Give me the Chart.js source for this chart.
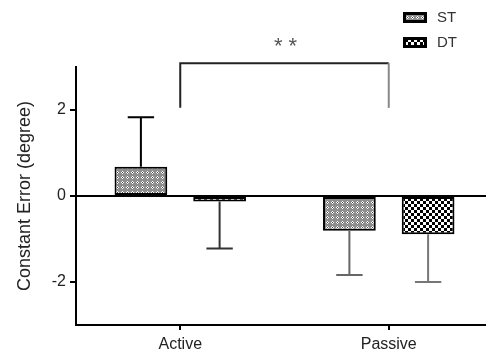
<!DOCTYPE html>
<html>
<head>
<meta charset="utf-8">
<script src="https://cdn.jsdelivr.net/npm/chart.js@4"></script>
<style>
  html, body { margin: 0; padding: 0; background: #fff; overflow: hidden; }
  #wrap { width: 494px; height: 351px; position: relative; }
</style>
</head>
<body>
<div id="wrap"><canvas id="chart-area"></canvas></div>
<script>
var categories = ['Active', 'Passive'];
var seriesNames = ['ST', 'DT'];
var stValues = [0.68, -0.81];
var dtValues = [-0.13, -0.89];
var stErrors = [1.15, 1.03];
var dtErrors = [1.09, 1.11];
var yTicks = [-2, 0, 2];
var sigLabel = '* *';
var sigTop = 3.09, sigLegBottom = 2.05;

function makePattern(kind) {
  var c = document.createElement('canvas');
  var p = c.getContext('2d');
  if (kind === 'dots') {
    c.width = 5; c.height = 5;
    p.fillStyle = '#8e8e8e'; p.fillRect(0, 0, 5, 5);
    p.fillStyle = '#ffffff';
    p.fillRect(2, 1, 1, 1); p.fillRect(1, 2, 1, 1);
    p.fillRect(3, 2, 1, 1); p.fillRect(2, 3, 1, 1);
    p.fillStyle = '#444444'; p.fillRect(2, 2, 1, 1);
  } else {
    c.width = 6; c.height = 6;
    p.fillStyle = '#ffffff'; p.fillRect(0, 0, 6, 6);
    p.fillStyle = '#000000';
    p.fillRect(0, 0, 3, 3); p.fillRect(3, 3, 3, 3);
  }
  return document.getElementById('chart-area').getContext('2d').createPattern(c, 'repeat');
}

var stFill = makePattern('dots');
var dtFill = makePattern('check');
var fontFam = '"Liberation Sans", Arial, sans-serif';

var extras = {
  id: 'extras',
  afterDatasetsDraw: function(chart) {
    var ctx = chart.ctx, a = chart.chartArea;
    var x = chart.scales.x, y = chart.scales.y;
    ctx.save();
    // zero line
    ctx.strokeStyle = '#000'; ctx.lineWidth = 2;
    var y0 = y.getPixelForValue(0);
    ctx.beginPath(); ctx.moveTo(a.left, y0); ctx.lineTo(a.right, y0); ctx.stroke();

    // error bars
    var errs = [stErrors, dtErrors];
    var errColors = [['#000', '#666'], ['#333', '#777']];
    chart.data.datasets.forEach(function(ds, di) {
      chart.getDatasetMeta(di).data.forEach(function(bar, i) {
        var v = ds.data[i];
        var end = v >= 0 ? v + errs[di][i] : v - errs[di][i];
        var py = y.getPixelForValue(end);
        var half = bar.width / 4;
        ctx.strokeStyle = errColors[di][i]; ctx.lineWidth = 2;
        ctx.beginPath();
        ctx.moveTo(bar.x, bar.y); ctx.lineTo(bar.x, py);
        ctx.moveTo(bar.x - half, py); ctx.lineTo(bar.x + half, py);
        ctx.stroke();
      });
    });

    // significance bracket
    var xa = x.getPixelForValue(0), xb = x.getPixelForValue(1);
    var yt = y.getPixelForValue(sigTop), yl = y.getPixelForValue(sigLegBottom);
    ctx.strokeStyle = '#222'; ctx.lineWidth = 2;
    ctx.beginPath();
    ctx.moveTo(xa, yl); ctx.lineTo(xa, yt); ctx.lineTo(xb, yt);
    ctx.stroke();
    ctx.strokeStyle = '#888';
    ctx.beginPath(); ctx.moveTo(xb, yt); ctx.lineTo(xb, yl); ctx.stroke();
    ctx.fillStyle = '#555';
    ctx.font = '22px ' + fontFam;
    ctx.textAlign = 'center'; ctx.textBaseline = 'middle';
    ctx.fillText(sigLabel, (xa + xb) / 2 + 1, 47);

    // legend
    var fills = [stFill, dtFill];
    ctx.font = '15px ' + fontFam;
    ctx.textAlign = 'left';
    seriesNames.forEach(function(name, i) {
      var ly = 12 + i * 25;
      ctx.fillStyle = '#000'; ctx.fillRect(403, ly, 24, 11);
      ctx.fillStyle = fills[i]; ctx.fillRect(406, ly + 3, 18, 5);
      ctx.fillStyle = '#333'; ctx.fillText(name, 437, ly + 6);
    });
    ctx.restore();
  }
};

var config = {
  type: 'bar',
  data: {
    labels: categories,
    datasets: [{
      label: seriesNames[0],
      data: stValues,
      backgroundColor: stFill,
      borderColor: '#000',
      borderWidth: 2,
      borderSkipped: false
    }, {
      label: seriesNames[1],
      data: dtValues,
      backgroundColor: dtFill,
      borderColor: '#000',
      borderWidth: 2,
      borderSkipped: false
    }]
  },
  options: {
    responsive: false,
    animation: false,
    devicePixelRatio: 1,
    categoryPercentage: 0.755,
    barPercentage: 0.67,
    layout: { padding: { top: 67, right: 1, left: 0, bottom: 0 } },
    plugins: { legend: { display: false }, tooltip: { enabled: false } },
    scales: {
      x: {
        afterFit: function(scale) { scale.height = 26; },
        grid: { display: true, drawOnChartArea: false, offset: false, tickLength: 5, color: '#000', lineWidth: 2 },
        border: { display: true, color: '#000', width: 2 },
        ticks: { color: '#222', padding: 5, font: { size: 16, family: fontFam } }
      },
      y: {
        min: -3,
        max: 3,
        afterBuildTicks: function(scale) {
          scale.ticks = yTicks.map(function(v) { return { value: v }; });
        },
        afterFit: function(scale) { scale.width = 76; },
        grid: { display: true, drawOnChartArea: false, tickLength: 6, color: '#000', lineWidth: 2 },
        border: { display: true, color: '#000', width: 2 },
        ticks: { color: '#222', padding: 4, font: { size: 16, family: fontFam } },
        title: {
          display: true,
          text: 'Constant Error (degree)',
          color: '#222',
          padding: { top: 14, bottom: 0 },
          font: { size: 18, family: fontFam }
        }
      }
    }
  },
  plugins: [extras]
};

var cv = document.getElementById('chart-area');
cv.width = 494; cv.height = 351;
window.myChart = new Chart(cv.getContext('2d'), config);
</script>
</body>
</html>
